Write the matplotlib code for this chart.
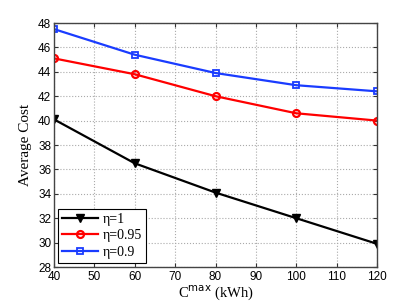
import matplotlib
matplotlib.use("Agg")
import matplotlib.pyplot as plt

# data
cmax = [40, 60, 80, 100, 120]
cost_eta1 = [40.1, 36.5, 34.1, 32.0, 29.9]
cost_eta095 = [45.1, 43.8, 42.0, 40.6, 40.0]
cost_eta09 = [47.5, 45.4, 43.9, 42.9, 42.4]
labels = ['η=1', 'η=0.95', 'η=0.9']

plt.rcParams['font.family'] = ['Liberation Sans', 'DejaVu Sans']

fig = plt.figure(figsize=(4.15, 3.02), dpi=100)
ax = fig.add_axes([54/415, 1 - 267/302, (377-54)/415, (267-23)/302])

ax.plot(cmax, cost_eta1, color='black', marker='v', markersize=6, lw=1.6, label=labels[0])
ax.plot(cmax, cost_eta095, color='#ff0000', marker='o', markersize=5, mfc='none',
        mew=1.6, lw=1.6, label=labels[1])
ax.plot(cmax, cost_eta09, color='#1a3cff', marker='s', markersize=5, mfc='none',
        mew=1.3, lw=1.6, label=labels[2])

ax.set_xlim(40, 120)
ax.set_ylim(28, 48)
ax.set_xticks(range(40, 121, 10))
ax.set_yticks(range(28, 49, 2))
ax.tick_params(labelsize=8.5, direction='in', length=3, color='#333333',
               top=True, right=True)
ax.tick_params(axis='x', pad=3)
ax.tick_params(axis='y', pad=2)
ax.grid(True, linestyle=':', color='#aaaaaa', lw=0.8)
for s in ax.spines.values():
    s.set_color('#444444')
    s.set_linewidth(1.0)

ax.set_xlabel(r'C$^{\mathrm{max}}$ (kWh)', family='Liberation Serif', fontsize=10.5, labelpad=0)
ax.set_ylabel('Average Cost', family='Liberation Serif', fontsize=11, labelpad=4)

leg = ax.legend(loc='lower left', prop={'family': 'Liberation Serif', 'size': 10},
                fancybox=False, edgecolor='black', framealpha=1, handlelength=2.6,
                borderpad=0.3, labelspacing=0.25, handletextpad=0.3, borderaxespad=0.3)
leg.get_frame().set_linewidth(0.8)

fig.savefig('out.png', dpi=100)
